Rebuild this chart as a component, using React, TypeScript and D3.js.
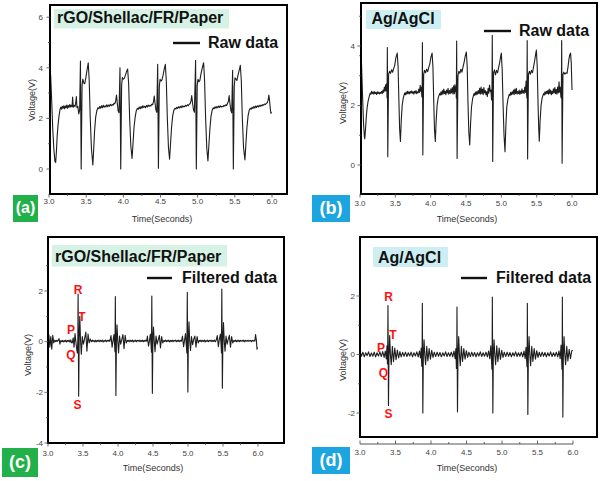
import React from 'react';
import * as d3 from 'd3';

type Pt = [number, number];

// ---------- DATA (time in s, voltage in V) ----------
const RAW_A: Pt[] = [
[3.000,4.10],[3.010,4.14],[3.022,3.70],[3.035,2.80],[3.050,1.60],[3.065,0.80],[3.080,0.30],[3.090,0.26],[3.100,0.70],[3.110,1.30],[3.122,1.75],[3.135,2.10],[3.148,2.35],[3.160,2.45],[3.170,2.36],[3.180,2.48],[3.190,2.40],[3.200,2.50],[3.210,2.38],[3.220,2.49],[3.230,2.42],[3.240,2.53],[3.250,2.40],[3.260,2.51],[3.270,2.44],[3.280,2.55],[3.290,2.45],[3.300,2.52],[3.310,2.46],[3.318,2.84],[3.326,2.44],[3.338,2.52],[3.350,2.46],[3.360,2.62],[3.368,2.86],[3.376,2.42],[3.388,2.48],[3.400,2.18],[3.412,2.32],
[3.423,4.27],[3.433,0.00],[3.445,3.30],[3.455,3.55],[3.468,3.40],[3.481,3.37],[3.495,3.60],[3.511,3.90],[3.528,4.20],[3.541,3.50],[3.555,2.00],[3.571,0.80],[3.590,0.16],[3.600,0.70],[3.613,1.50],[3.628,2.05],[3.643,2.30],[3.658,2.42],
[3.670,2.38],[3.682,2.47],[3.694,2.40],[3.706,2.50],[3.718,2.42],[3.730,2.52],[3.742,2.44],[3.754,2.50],[3.766,2.45],[3.778,2.54],[3.790,2.46],[3.802,2.53],[3.814,2.48],[3.826,2.56],[3.838,2.50],[3.850,2.55],[3.862,2.52],[3.874,2.60],[3.886,2.58],[3.898,2.70],[3.908,2.92],[3.918,2.62],[3.930,2.30],[3.942,2.22],
[3.955,4.00],[3.965,0.00],[3.977,3.30],[3.987,3.62],[4.000,3.55],[4.013,3.58],[4.027,3.70],[4.043,3.85],[4.058,3.95],[4.071,3.40],[4.085,2.00],[4.101,0.90],[4.117,0.42],[4.129,0.95],[4.144,1.65],[4.159,2.05],[4.174,2.30],[4.190,2.40],
[4.202,2.36],[4.214,2.45],[4.226,2.38],[4.238,2.47],[4.250,2.40],[4.262,2.50],[4.274,2.43],[4.286,2.48],[4.298,2.42],[4.310,2.51],[4.322,2.45],[4.334,2.53],[4.346,2.47],[4.358,2.52],[4.370,2.49],[4.382,2.56],[4.394,2.54],[4.406,2.66],[4.416,2.88],[4.426,2.62],[4.438,2.34],[4.450,2.24],
[4.462,4.14],[4.472,0.03],[4.484,3.25],[4.494,3.55],[4.507,3.48],[4.520,3.52],[4.534,3.70],[4.550,3.95],[4.565,4.14],[4.578,3.50],[4.592,2.00],[4.607,0.85],[4.622,0.39],[4.634,0.95],[4.649,1.65],[4.664,2.10],[4.679,2.32],[4.694,2.40],
[4.706,2.37],[4.718,2.44],[4.730,2.39],[4.742,2.46],[4.754,2.41],[4.766,2.48],[4.778,2.42],[4.790,2.50],[4.802,2.44],[4.814,2.49],[4.826,2.46],[4.838,2.52],[4.850,2.48],[4.862,2.54],[4.874,2.50],[4.886,2.56],[4.898,2.58],[4.910,2.68],[4.920,2.90],[4.930,2.64],[4.942,2.36],[4.956,2.24],
[4.972,4.30],[4.982,0.00],[4.994,3.30],[5.004,3.55],[5.017,3.45],[5.030,3.50],[5.044,3.75],[5.062,4.00],[5.080,4.20],[5.093,3.50],[5.107,2.00],[5.123,0.80],[5.138,0.32],[5.150,0.90],[5.165,1.60],[5.180,2.10],[5.195,2.32],[5.210,2.42],
[5.222,2.38],[5.234,2.46],[5.246,2.40],[5.258,2.47],[5.270,2.42],[5.282,2.49],[5.294,2.43],[5.306,2.50],[5.318,2.45],[5.330,2.48],[5.342,2.46],[5.354,2.52],[5.366,2.48],[5.378,2.54],[5.390,2.51],[5.402,2.60],[5.414,2.68],[5.424,2.90],[5.434,2.60],[5.446,2.32],[5.458,2.22],
[5.470,3.90],[5.480,0.00],[5.492,3.25],[5.502,3.60],[5.515,3.55],[5.528,3.50],[5.542,3.70],[5.558,3.90],[5.574,4.10],[5.587,3.50],[5.601,2.00],[5.617,0.85],[5.636,0.36],[5.648,0.95],[5.663,1.65],[5.678,2.10],[5.693,2.32],[5.708,2.40],
[5.720,2.36],[5.732,2.44],[5.744,2.39],[5.756,2.47],[5.768,2.41],[5.780,2.49],[5.792,2.43],[5.804,2.50],[5.816,2.45],[5.828,2.52],[5.840,2.47],[5.852,2.53],[5.864,2.49],[5.876,2.55],[5.888,2.52],[5.900,2.57],[5.912,2.55],[5.924,2.60],[5.936,2.62],[5.948,2.72],[5.958,2.92],[5.968,2.68],[5.978,2.35],[5.986,2.20],[5.992,2.26]
];

const RAW_B: Pt[] = [
[3.000,3.70],[3.010,3.62],[3.020,3.50],[3.035,2.40],[3.050,1.40],[3.062,0.95],[3.068,0.88],[3.078,1.20],[3.090,1.65],[3.102,1.95],[3.115,2.15],[3.130,2.30],[3.145,2.42],
[3.155,2.38],[3.165,2.48],[3.175,2.40],[3.185,2.45],[3.195,2.38],[3.205,2.47],[3.215,2.40],[3.225,2.44],[3.235,2.37],[3.245,2.46],[3.255,2.40],[3.265,2.45],[3.275,2.39],[3.285,2.44],[3.295,2.41],[3.305,2.47],[3.315,2.40],[3.325,2.52],[3.335,2.44],[3.345,2.62],[3.355,2.48],[3.363,2.70],[3.371,2.50],[3.378,2.75],[3.383,2.25],
[3.387,3.95],[3.393,0.28],[3.405,3.05],[3.417,3.15],[3.432,3.08],[3.447,3.20],[3.462,3.12],[3.477,3.25],[3.492,3.35],[3.507,3.60],[3.527,3.76],[3.539,3.30],[3.550,2.20],[3.561,1.20],[3.572,0.79],[3.584,1.50],[3.597,2.00],[3.612,2.25],[3.632,2.42],
[3.642,2.36],[3.652,2.45],[3.662,2.38],[3.672,2.48],[3.682,2.40],[3.692,2.46],[3.702,2.39],[3.712,2.47],[3.722,2.42],[3.732,2.49],[3.742,2.41],[3.752,2.46],[3.762,2.38],[3.772,2.48],[3.782,2.42],[3.792,2.50],[3.802,2.40],[3.812,2.46],[3.822,2.42],[3.832,2.55],[3.842,2.44],[3.852,2.68],[3.860,2.48],[3.868,2.62],[3.875,2.30],[3.880,2.28],
[3.883,4.12],[3.889,0.34],[3.901,3.05],[3.913,3.18],[3.928,3.10],[3.943,3.22],[3.958,3.14],[3.973,3.28],[3.988,3.40],[4.003,3.62],[4.020,3.76],[4.032,3.30],[4.043,2.20],[4.054,1.20],[4.066,0.79],[4.078,1.50],[4.091,2.00],[4.106,2.25],[4.126,2.40],
[4.136,2.35],[4.146,2.46],[4.156,2.36],[4.166,2.50],[4.176,2.38],[4.186,2.55],[4.196,2.40],[4.206,2.48],[4.216,2.36],[4.226,2.52],[4.236,2.42],[4.246,2.58],[4.256,2.38],[4.266,2.50],[4.276,2.40],[4.286,2.56],[4.296,2.42],[4.306,2.60],[4.316,2.38],[4.326,2.66],[4.336,2.40],[4.344,2.70],[4.352,2.46],[4.358,2.62],[4.363,2.25],
[4.368,4.17],[4.374,0.22],[4.386,3.00],[4.398,3.15],[4.413,3.08],[4.428,3.22],[4.443,3.12],[4.458,3.30],[4.473,3.45],[4.488,3.65],[4.505,3.80],[4.517,3.30],[4.528,2.10],[4.540,1.10],[4.553,0.67],[4.565,1.40],[4.578,1.95],[4.593,2.22],[4.613,2.40],
[4.623,2.34],[4.633,2.45],[4.643,2.36],[4.653,2.47],[4.663,2.38],[4.673,2.50],[4.683,2.40],[4.693,2.58],[4.703,2.38],[4.713,2.62],[4.723,2.40],[4.733,2.55],[4.743,2.36],[4.753,2.60],[4.763,2.42],[4.773,2.50],[4.783,2.36],[4.793,2.47],[4.803,2.30],[4.813,2.58],[4.823,2.41],[4.833,2.69],[4.843,2.47],[4.853,2.52],[4.861,2.19],[4.867,2.25],
[4.872,4.36],[4.878,0.12],[4.890,3.10],[4.902,3.20],[4.917,3.03],[4.932,3.18],[4.947,3.10],[4.962,3.28],[4.977,3.45],[4.990,3.65],[5.000,3.76],[5.012,3.20],[5.025,2.00],[5.038,1.00],[5.052,0.45],[5.064,1.30],[5.077,1.95],[5.092,2.20],[5.112,2.38],
[5.122,2.33],[5.132,2.44],[5.142,2.36],[5.152,2.46],[5.162,2.38],[5.172,2.52],[5.182,2.36],[5.192,2.55],[5.202,2.40],[5.212,2.58],[5.222,2.38],[5.232,2.47],[5.242,2.40],[5.252,2.52],[5.262,2.37],[5.272,2.49],[5.282,2.40],[5.292,2.56],[5.302,2.42],[5.312,2.50],[5.322,2.40],[5.332,2.62],[5.342,2.44],[5.350,2.82],[5.357,2.40],[5.362,2.25],
[5.366,4.18],[5.372,0.20],[5.384,3.05],[5.396,3.15],[5.411,3.05],[5.426,3.18],[5.441,3.10],[5.456,3.30],[5.471,3.50],[5.484,3.70],[5.496,3.86],[5.508,3.30],[5.518,2.20],[5.528,1.30],[5.537,0.80],[5.549,1.50],[5.562,2.00],[5.577,2.25],[5.597,2.40],
[5.607,2.35],[5.617,2.46],[5.627,2.38],[5.637,2.48],[5.647,2.40],[5.657,2.50],[5.667,2.38],[5.677,2.55],[5.687,2.40],[5.697,2.52],[5.707,2.36],[5.717,2.48],[5.727,2.40],[5.737,2.56],[5.747,2.42],[5.757,2.60],[5.767,2.40],[5.777,2.54],[5.787,2.38],[5.797,2.62],[5.807,2.42],[5.817,2.80],[5.825,2.45],[5.833,2.62],[5.842,2.30],[5.849,2.25],
[5.854,4.18],[5.860,0.06],[5.872,3.05],[5.884,3.12],[5.899,3.05],[5.914,3.10],[5.929,3.08],[5.944,3.30],[5.956,3.55],[5.968,3.70],[5.980,3.76],[5.990,3.40],[6.000,2.52]
];

const FILT_C: Pt[] = [
[3.000,0.05],[3.012,0.28],[3.026,-0.22],[3.040,0.20],[3.054,-0.30],[3.068,0.25],[3.082,-0.05],[3.096,0.06],[3.110,0.00],[3.122,0.05],[3.134,0.01],[3.146,0.06],[3.158,0.12],[3.170,-0.10],[3.182,0.04],[3.194,0.00],[3.206,0.05],[3.218,-0.01],[3.230,0.05],[3.242,0.00],[3.254,0.06],[3.266,-0.01],[3.278,0.05],[3.290,0.01],[3.302,0.06],[3.314,-0.02],[3.326,0.07],[3.336,-0.04],
[3.346,-0.05],[3.360,0.15],[3.372,-0.22],[3.386,0.32],[3.398,0.00],[3.410,-0.30],[3.420,-0.45],[3.426,0.10],
[3.430,1.88],[3.438,-2.15],[3.446,0.20],[3.454,1.00],[3.464,0.10],[3.476,-0.50],[3.490,0.20],[3.506,-0.10],[3.522,0.10],[3.540,0.38],[3.556,-0.38],[3.572,0.30],[3.588,-0.05],[3.604,0.10],[3.620,0.00],
[3.632,0.06],[3.644,0.01],[3.656,0.05],[3.668,-0.01],[3.680,0.06],[3.692,0.00],[3.704,0.05],[3.716,0.01],[3.728,0.06],[3.740,0.00],[3.752,0.05],[3.764,0.01],[3.776,0.06],[3.788,-0.01],[3.800,0.05],[3.812,0.01],[3.824,0.06],[3.836,0.00],[3.848,0.05],[3.860,0.02],[3.872,0.06],[3.884,0.01],
[3.900,0.24],[3.916,-0.22],[3.930,0.05],[3.942,0.28],[3.952,-0.15],[3.957,-0.40],
[3.962,1.78],[3.970,-2.12],[3.978,0.15],[3.986,0.67],[3.996,0.05],[4.008,-0.45],[4.022,0.22],[4.038,-0.10],[4.054,0.08],[4.070,0.28],[4.086,-0.28],[4.102,0.25],[4.118,-0.05],[4.134,0.05],
[4.146,0.01],[4.158,0.06],[4.170,0.00],[4.182,0.05],[4.194,0.01],[4.206,0.06],[4.218,-0.01],[4.230,0.05],[4.242,0.01],[4.254,0.06],[4.266,0.00],[4.278,0.05],[4.290,0.02],[4.302,0.06],[4.314,0.00],[4.326,0.05],[4.338,0.01],[4.350,0.06],[4.362,0.00],[4.374,0.05],[4.386,0.01],[4.398,0.06],[4.410,0.02],
[4.420,0.22],[4.436,-0.18],[4.450,0.05],[4.462,0.30],[4.472,-0.12],[4.478,-0.42],
[4.483,1.80],[4.491,-2.04],[4.499,0.15],[4.507,0.58],[4.517,0.05],[4.529,-0.40],[4.543,0.22],[4.559,-0.10],[4.575,0.08],[4.591,0.25],[4.607,-0.25],[4.623,0.20],[4.639,-0.05],[4.655,0.05],
[4.667,0.01],[4.679,0.06],[4.691,0.00],[4.703,0.05],[4.715,0.01],[4.727,0.06],[4.739,-0.01],[4.751,0.05],[4.763,0.01],[4.775,0.06],[4.787,0.00],[4.799,0.05],[4.811,0.02],[4.823,0.06],[4.835,0.00],[4.847,0.05],[4.859,0.01],[4.871,0.06],[4.883,0.00],[4.895,0.05],[4.907,0.02],
[4.921,0.22],[4.937,-0.20],[4.951,0.06],[4.964,0.32],[4.976,-0.15],[4.984,-0.45],
[4.990,1.95],[4.998,-1.99],[5.006,0.20],[5.014,0.78],[5.024,0.05],[5.036,-0.35],[5.050,0.20],[5.066,-0.12],[5.082,0.10],[5.098,0.22],[5.114,-0.22],[5.130,0.20],[5.146,-0.05],[5.162,0.05],
[5.174,0.01],[5.186,0.06],[5.198,0.00],[5.210,0.05],[5.222,0.01],[5.234,0.06],[5.246,-0.01],[5.258,0.05],[5.270,0.01],[5.282,0.06],[5.294,0.00],[5.306,0.05],[5.318,0.02],[5.330,0.06],[5.342,0.00],[5.354,0.05],[5.366,0.01],[5.378,0.06],[5.390,0.00],[5.402,0.05],
[5.418,0.24],[5.434,-0.20],[5.448,0.10],[5.462,0.30],[5.472,-0.10],[5.478,-0.45],
[5.483,2.08],[5.491,-1.84],[5.499,0.15],[5.507,0.75],[5.517,0.05],[5.529,-0.38],[5.543,0.22],[5.559,-0.10],[5.575,0.10],[5.591,0.25],[5.607,-0.22],[5.623,0.20],[5.639,-0.05],[5.655,0.05],
[5.667,0.01],[5.679,0.06],[5.691,0.00],[5.703,0.05],[5.715,0.01],[5.727,0.06],[5.739,0.00],[5.751,0.05],[5.763,0.02],[5.775,0.05],[5.787,0.01],[5.799,0.06],[5.811,0.00],[5.823,0.05],[5.835,0.02],[5.847,0.05],[5.859,0.01],[5.871,0.05],[5.883,0.02],[5.895,0.05],[5.907,0.00],[5.919,0.05],[5.931,0.02],[5.943,0.05],[5.955,0.02],[5.965,0.28],[5.977,0.05],[5.986,-0.30],[5.992,-0.22]
];

const FILT_D: Pt[] = [
[3.000,0.12],[3.020,-0.06],[3.040,0.08],[3.060,-0.08],[3.080,0.06],[3.100,-0.04],[3.120,0.09],[3.140,-0.07],[3.160,0.05],[3.180,-0.06],[3.200,0.08],[3.220,-0.08],[3.240,0.06],[3.260,-0.05],[3.280,0.09],[3.300,-0.07],[3.320,0.10],[3.340,-0.10],[3.356,0.12],[3.370,-0.15],[3.380,0.30],[3.387,-0.32],[3.390,0.00],
[3.394,1.67],[3.401,-1.74],[3.408,-0.10],[3.418,0.65],[3.428,0.00],[3.440,-0.35],[3.456,0.28],[3.472,-0.25],[3.490,0.22],[3.508,-0.18],[3.526,0.15],[3.544,-0.12],[3.562,0.10],[3.580,-0.08],
[3.600,0.07],[3.620,-0.06],[3.640,0.08],[3.660,-0.07],[3.680,0.06],[3.700,-0.05],[3.720,0.08],[3.740,-0.08],[3.760,0.06],[3.780,-0.05],[3.800,0.09],[3.820,-0.08],[3.838,0.12],[3.852,-0.12],[3.862,0.22],[3.870,-0.40],[3.875,0.05],
[3.878,1.75],[3.885,-2.00],[3.892,-0.10],[3.902,0.50],[3.912,0.00],[3.924,-0.35],[3.940,0.28],[3.956,-0.22],[3.974,0.20],[3.992,-0.16],[4.010,0.14],[4.028,-0.10],[4.046,0.08],
[4.066,-0.07],[4.086,0.08],[4.106,-0.06],[4.126,0.07],[4.146,-0.08],[4.166,0.06],[4.186,-0.05],[4.206,0.09],[4.226,-0.07],[4.246,0.06],[4.266,-0.06],[4.286,0.08],[4.306,-0.08],[4.324,0.12],[4.340,-0.14],[4.350,0.20],[4.358,-0.48],[4.363,0.05],
[4.366,1.62],[4.373,-1.96],[4.380,-0.10],[4.390,0.61],[4.400,0.02],[4.412,-0.38],[4.428,0.28],[4.444,-0.24],[4.462,0.20],[4.480,-0.16],[4.498,0.13],[4.516,-0.10],[4.534,0.08],
[4.554,-0.07],[4.574,0.08],[4.594,-0.06],[4.614,0.07],[4.634,-0.08],[4.654,0.06],[4.674,-0.05],[4.694,0.09],[4.714,-0.07],[4.734,0.06],[4.754,-0.06],[4.774,0.08],[4.794,-0.08],[4.812,0.12],[4.828,-0.14],[4.842,0.30],[4.852,-0.20],[4.858,-0.50],[4.861,0.05],
[4.864,1.96],[4.871,-2.00],[4.878,-0.10],[4.888,0.50],[4.898,0.02],[4.910,-0.35],[4.926,0.30],[4.942,-0.25],[4.960,0.22],[4.978,-0.17],[4.996,0.14],[5.014,-0.10],[5.032,0.08],
[5.052,-0.07],[5.072,0.08],[5.092,-0.06],[5.112,0.07],[5.132,-0.08],[5.152,0.06],[5.172,-0.05],[5.192,0.09],[5.212,-0.07],[5.232,0.06],[5.252,-0.06],[5.272,0.08],[5.292,-0.08],[5.310,0.12],[5.326,-0.14],[5.338,0.25],[5.346,-0.15],[5.352,-0.42],[5.355,0.05],
[5.357,1.75],[5.364,-2.05],[5.371,-0.10],[5.381,0.61],[5.391,0.02],[5.403,-0.38],[5.419,0.28],[5.435,-0.24],[5.453,0.20],[5.471,-0.16],[5.489,0.13],[5.507,-0.10],[5.525,0.08],
[5.545,-0.07],[5.565,0.08],[5.585,-0.06],[5.605,0.07],[5.625,-0.08],[5.645,0.06],[5.665,-0.05],[5.685,0.09],[5.705,-0.07],[5.725,0.06],[5.745,-0.06],[5.765,0.08],[5.785,-0.08],[5.803,0.12],[5.819,-0.14],[5.832,0.32],[5.840,-0.20],[5.845,-0.50],[5.848,0.05],
[5.850,1.96],[5.857,-2.14],[5.864,-0.10],[5.874,0.61],[5.884,0.02],[5.896,-0.35],[5.912,0.28],[5.928,-0.22],[5.946,0.18],[5.964,-0.14],[5.982,0.12],[5.996,0.15]
];

const X_TICKS = [3.0, 3.5, 4.0, 4.5, 5.0, 5.5, 6.0];
const X_MINOR = [3.25, 3.75, 4.25, 4.75, 5.25, 5.75];
const Y_TICKS_A = [0, 2, 4, 6];
const Y_TICKS_B = [0, 2, 4];
const Y_TICKS_C = [-4, -2, 0, 2];
const Y_TICKS_D = [-2, 0, 2];
const Y_MINOR_A = [-1, 1, 3, 5];
const Y_MINOR_B = [-1, 1, 3, 5];
const Y_MINOR_C = [-3, -1, 1, 3];
const Y_MINOR_D = [-1, 1];
const TITLES = ['rGO/Shellac/FR/Paper', 'Ag/AgCl', 'rGO/Shellac/FR/Paper', 'Ag/AgCl'];
const LEGENDS = ['Raw data', 'Raw data', 'Filtered data', 'Filtered data'];
const LETTERS = ['(a)', '(b)', '(c)', '(d)'];
const WAVE_LABELS = ['R', 'T', 'P', 'Q', 'S'];
const X_TITLE = 'Time(Seconds)';
const Y_TITLE = 'Voltage(V)';

// ---------- LAYOUT ----------
const GREEN_BOX = '#d6f2e5';
const CYAN_BOX = '#cdeff3';
const GREEN_TAG = '#22b04b';
const BLUE_TAG = '#1ca5de';

const LAYOUT = [
  { data: RAW_A, yTicks: Y_TICKS_A, yMinor: Y_MINOR_A,
    frame: [50, 5, 287, 194], xr: [49, 272], yd: [0, 6], yr: [169, 17.2], yLabEnd: 43, xLabY: 201,
    xTitle: [162, 219], yTitle: [32, 100],
    tBox: [54, 9, 175, 19.5], tFill: GREEN_BOX, tText: [57, 23],
    leg: [173, 200, 43], legText: [208, 48],
    tag: [13, 195, 25, 27], tagFill: GREEN_TAG, tagSize: 16, tagText: [25.5, 213],
    waves: null as null | number[][], axisBelow: null as null | number },
  { data: RAW_B, yTicks: Y_TICKS_B, yMinor: Y_MINOR_B,
    frame: [361, 3, 597, 194], xr: [360, 572], yd: [0, 4], yr: [165, 46], yLabEnd: 355, xLabY: 203,
    xTitle: [467, 219], yTitle: [343, 103],
    tBox: [366, 10, 75, 19], tFill: CYAN_BOX, tText: [371.5, 24],
    leg: [484, 511, 31], legText: [519, 36],
    tag: [312, 195, 38, 27], tagFill: BLUE_TAG, tagSize: 18, tagText: [331, 214],
    waves: null, axisBelow: null },
  { data: FILT_C, yTicks: Y_TICKS_C, yMinor: Y_MINOR_C,
    frame: [48, 237, 284, 443], xr: [48, 258], yd: [-4, 2], yr: [443, 291], yLabEnd: 43, xLabY: 453,
    xTitle: [153, 468], yTitle: [28, 355],
    tBox: [52, 245, 175, 21.5], tFill: GREEN_BOX, tText: [55, 261.5],
    leg: [147, 172, 278], legText: [182, 283],
    tag: [2, 448, 36, 29], tagFill: GREEN_TAG, tagSize: 18, tagText: [20, 468],
    waves: [[78, 293.5], [82, 321], [71, 334], [71, 358.5], [77.5, 409]], axisBelow: null },
  { data: FILT_D, yTicks: Y_TICKS_D, yMinor: Y_MINOR_D,
    frame: [360, 237, 597, 437], xr: [360, 573], yd: [-2, 2], yr: [413, 296], yLabEnd: 355, xLabY: 452,
    xTitle: [467, 468], yTitle: [343, 360],
    tBox: [373, 247, 75, 20], tFill: CYAN_BOX, tText: [378, 262.5],
    leg: [461, 487, 278], legText: [496, 283],
    tag: [312, 447, 38, 27], tagFill: BLUE_TAG, tagSize: 18, tagText: [331, 466],
    waves: [[388.5, 301], [393, 339], [381, 351.5], [383.5, 377], [388.5, 417.5]], axisBelow: 444 },
];

const SANS = 'Arial, "Liberation Sans", Helvetica, sans-serif';

function Panel({ p, i }: { p: typeof LAYOUT[number]; i: number }) {
  const x = d3.scaleLinear().domain([3, 6]).range(p.xr);
  const y = d3.scaleLinear().domain(p.yd).range(p.yr);
  const line = d3.line<Pt>().x(d => x(d[0])).y(d => y(d[1]));
  const [fx0, fy0, fx1, fy1] = p.frame;
  const axisY = p.axisBelow ?? fy1;
  const tickDir = p.axisBelow ? -1 : 1;
  const yVisible = (v: number) => y(v) >= fy0 && y(v) <= fy1;
  return (
    <g>
      <rect x={p.tBox[0]} y={p.tBox[1]} width={p.tBox[2]} height={p.tBox[3]} fill={p.tFill} />
      <text x={p.tText[0]} y={p.tText[1]} fontFamily={SANS} fontWeight="bold" fontSize={16} fill="#111">{TITLES[i]}</text>
      <line x1={p.leg[0]} x2={p.leg[1]} y1={p.leg[2]} y2={p.leg[2]} stroke="#111" strokeWidth={2.4} />
      <text x={p.legText[0]} y={p.legText[1]} fontFamily={SANS} fontWeight="bold" fontSize={16} fill="#111">{LEGENDS[i]}</text>
      <path d={line(p.data) || ''} fill="none" stroke="#1e1e1e" strokeWidth={1.1} strokeLinejoin="round" />
      <rect x={fx0} y={fy0} width={fx1 - fx0} height={fy1 - fy0} fill="none" stroke="#000" strokeWidth={2} />
      {p.axisBelow ? (
        <line x1={x(3)} x2={x(6)} y1={axisY} y2={axisY} stroke="#555" strokeWidth={1} />
      ) : null}
      {X_TICKS.map(t => (
        <g key={'xt' + t}>
          <line x1={x(t)} x2={x(t)} y1={axisY} y2={axisY + tickDir * 3.5} stroke="#444" strokeWidth={0.8} />
          <text x={x(t)} y={p.xLabY} dy="0.35em" textAnchor="middle" fontFamily={SANS} fontSize={8} fill="#444">{t.toFixed(1)}</text>
        </g>
      ))}
      {X_MINOR.map(t => (
        <line key={'xm' + t} x1={x(t)} x2={x(t)} y1={axisY} y2={axisY + tickDir * 2} stroke="#444" strokeWidth={0.8} />
      ))}
      {p.yTicks.map(v => (
        <g key={'yt' + v}>
          <line x1={fx0} x2={fx0 - 3.5} y1={y(v)} y2={y(v)} stroke="#444" strokeWidth={0.8} />
          <text x={p.yLabEnd} y={y(v)} dy="0.35em" textAnchor="end" fontFamily={SANS} fontSize={8} fill="#444">{v}</text>
        </g>
      ))}
      {p.yMinor.filter(yVisible).map(v => (
        <line key={'ym' + v} x1={fx0} x2={fx0 - 2} y1={y(v)} y2={y(v)} stroke="#444" strokeWidth={0.8} />
      ))}
      <text x={p.xTitle[0]} y={p.xTitle[1]} dy="0.35em" textAnchor="middle" fontFamily={SANS} fontSize={9} fill="#333">{X_TITLE}</text>
      <text transform={`translate(${p.yTitle[0]},${p.yTitle[1]}) rotate(-90)`} dy="0.35em" textAnchor="middle" fontFamily={SANS} fontSize={9} fill="#333">{Y_TITLE}</text>
      <rect x={p.tag[0]} y={p.tag[1]} width={p.tag[2]} height={p.tag[3]} fill={p.tagFill} />
      <text x={p.tagText[0]} y={p.tagText[1]} textAnchor="middle" fontFamily={SANS} fontWeight="bold" fontSize={p.tagSize} fill="#fff">{LETTERS[i]}</text>
      {p.waves ? p.waves.map((w, k) => (
        <text key={'w' + k} x={w[0]} y={w[1]} textAnchor="middle" fontFamily={SANS} fontWeight="bold" fontSize={12} fill="#ff1010">{WAVE_LABELS[k]}</text>
      )) : null}
    </g>
  );
}

export default function App() {
  return (
    <svg width={600} height={481} viewBox="0 0 600 481" style={{ position: 'absolute', left: 0, top: 0, background: '#fff' }}>
      <rect x={0} y={0} width={600} height={481} fill="#fff" />
      {LAYOUT.map((p, i) => <Panel key={i} p={p} i={i} />)}
    </svg>
  );
}
